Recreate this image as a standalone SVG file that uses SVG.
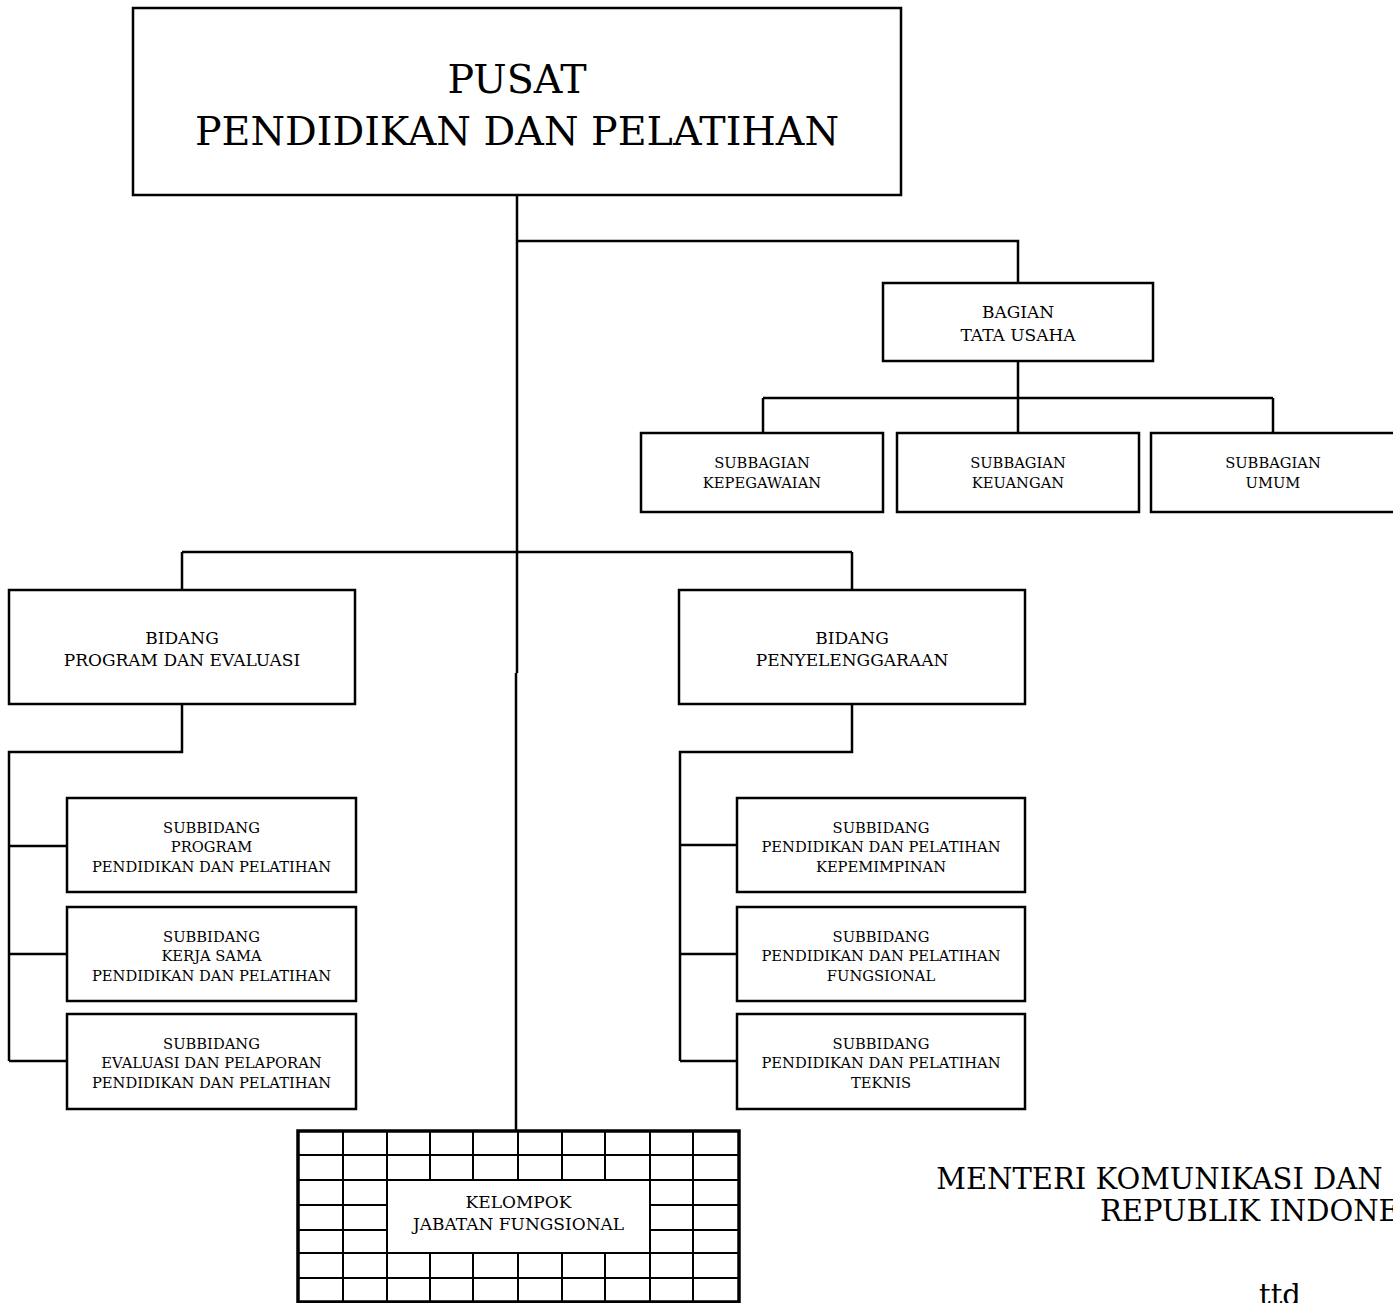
<svg xmlns="http://www.w3.org/2000/svg" width="1393" height="1303" viewBox="0 0 1393 1303">
<style>
.box{fill:#fff;stroke:#000;stroke-width:2.5}
.ln{fill:none;stroke:#000;stroke-width:2.5}
.g{fill:none;stroke:#000;stroke-width:2}
text{font-family:"DejaVu Serif","Liberation Serif",serif;fill:#000;text-anchor:middle}
.t0{font-size:39.6px}
.t1{font-size:17px}
.t2{font-size:14.7px}
.t3{font-size:17px}
.t4{font-size:29px}
</style>
<rect width="1393" height="1303" fill="#fff"/>
<g id="connectors">
<path class="ln" d="M517,195 V673"/>
<path class="ln" d="M516,673 V1131"/>
<path class="ln" d="M517,241 H1018 V283"/>
<path class="ln" d="M1018,361 V398 M763,398 H1273 M763,398 V433 M1018,398 V433 M1273,398 V433"/>
<path class="ln" d="M182,552 H852 M182,552 V590 M852,552 V590"/>
<path class="ln" d="M182,704 V752 H9 V1061 M9,846 H67 M9,954 H67 M9,1061 H67"/>
<path class="ln" d="M852,704 V752 H680 V1061 M680,845 H737 M680,954 H737 M680,1061 H737"/>
</g>
<g id="pusat">
<rect class="box" x="133" y="8" width="768" height="187"/>
<text class="t0" x="517" y="93">PUSAT</text>
<text class="t0" x="517" y="145">PENDIDIKAN DAN PELATIHAN</text>
</g>
<g id="bagian-tu">
<rect class="box" x="883" y="283" width="270" height="78"/>
<text class="t1" x="1018" y="318">BAGIAN</text>
<text class="t1" x="1018" y="341">TATA USAHA</text>
</g>
<g id="sub-kepegawaian">
<rect class="box" x="641" y="433" width="242" height="79"/>
<text class="t2" x="762" y="468">SUBBAGIAN</text>
<text class="t2" x="762" y="488">KEPEGAWAIAN</text>
</g>
<g id="sub-keuangan">
<rect class="box" x="897" y="433" width="242" height="79"/>
<text class="t2" x="1018" y="468">SUBBAGIAN</text>
<text class="t2" x="1018" y="488">KEUANGAN</text>
</g>
<g id="sub-umum">
<rect class="box" x="1151" y="433" width="246" height="79"/>
<text class="t2" x="1273" y="468">SUBBAGIAN</text>
<text class="t2" x="1273" y="488">UMUM</text>
</g>
<g id="bidang-program">
<rect class="box" x="9" y="590" width="346" height="114"/>
<text class="t1" x="182" y="644">BIDANG</text>
<text class="t1" x="182" y="666">PROGRAM DAN EVALUASI</text>
</g>
<g id="bidang-penyelenggaraan">
<rect class="box" x="679" y="590" width="346" height="114"/>
<text class="t1" x="852" y="644">BIDANG</text>
<text class="t1" x="852" y="666">PENYELENGGARAAN</text>
</g>
<g id="subbidang-program">
<rect class="box" x="67" y="798" width="289" height="94"/>
<text class="t2" x="211.5" y="833">SUBBIDANG</text>
<text class="t2" x="211.5" y="852">PROGRAM</text>
<text class="t2" x="211.5" y="872">PENDIDIKAN DAN PELATIHAN</text>
</g>
<g id="subbidang-kerjasama">
<rect class="box" x="67" y="907" width="289" height="94"/>
<text class="t2" x="211.5" y="942">SUBBIDANG</text>
<text class="t2" x="211.5" y="961">KERJA SAMA</text>
<text class="t2" x="211.5" y="981">PENDIDIKAN DAN PELATIHAN</text>
</g>
<g id="subbidang-evaluasi">
<rect class="box" x="67" y="1014" width="289" height="95"/>
<text class="t2" x="211.5" y="1049">SUBBIDANG</text>
<text class="t2" x="211.5" y="1068">EVALUASI DAN PELAPORAN</text>
<text class="t2" x="211.5" y="1088">PENDIDIKAN DAN PELATIHAN</text>
</g>
<g id="subbidang-kepemimpinan">
<rect class="box" x="737" y="798" width="288" height="94"/>
<text class="t2" x="881" y="833">SUBBIDANG</text>
<text class="t2" x="881" y="852">PENDIDIKAN DAN PELATIHAN</text>
<text class="t2" x="881" y="872">KEPEMIMPINAN</text>
</g>
<g id="subbidang-fungsional">
<rect class="box" x="737" y="907" width="288" height="94"/>
<text class="t2" x="881" y="942">SUBBIDANG</text>
<text class="t2" x="881" y="961">PENDIDIKAN DAN PELATIHAN</text>
<text class="t2" x="881" y="981">FUNGSIONAL</text>
</g>
<g id="subbidang-teknis">
<rect class="box" x="737" y="1014" width="288" height="95"/>
<text class="t2" x="881" y="1049">SUBBIDANG</text>
<text class="t2" x="881" y="1068">PENDIDIKAN DAN PELATIHAN</text>
<text class="t2" x="881" y="1088">TEKNIS</text>
</g>
<g id="kelompok-jf">
<rect x="298" y="1131" width="441" height="171" fill="#fff"/>
<path class="g" d="M343,1131 V1302 M693,1131 V1302 M387,1131 V1302 M650,1131 V1302
M430,1131 V1180 M473,1131 V1180 M518,1131 V1180 M562,1131 V1180 M605,1131 V1180
M430,1253 V1302 M473,1253 V1302 M518,1253 V1302 M562,1253 V1302 M605,1253 V1302
M298,1155 H739 M298,1180 H739 M298,1253 H739 M298,1278 H739
M298,1205 H387 M650,1205 H739 M298,1230 H387 M650,1230 H739"/>
<rect x="298" y="1131" width="441" height="171" fill="none" stroke="#000" stroke-width="3.5"/>
<text class="t3" x="518.5" y="1208">KELOMPOK</text>
<text class="t3" x="518.5" y="1230">JABATAN FUNGSIONAL</text>
</g>
<g id="signature">
<text class="t4" x="1276" y="1189">MENTERI KOMUNIKASI DAN INFORMATIKA</text>
<text class="t4" x="1276" y="1221">REPUBLIK INDONESIA</text>
<text class="t4" x="1280" y="1305">ttd</text>
</g>
</svg>
